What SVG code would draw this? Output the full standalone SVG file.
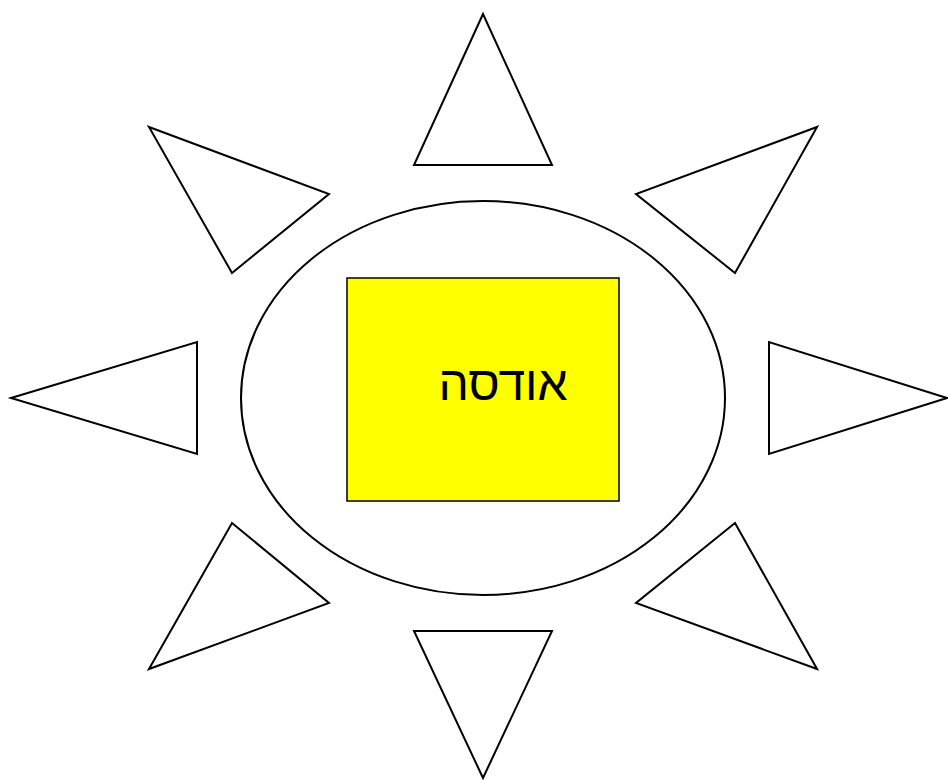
<svg xmlns="http://www.w3.org/2000/svg" width="948" height="780" viewBox="0 0 948 780">
<style>
.ray{fill:#fff;stroke:#000;stroke-width:2;stroke-linejoin:miter}
.lbl{font-family:"Liberation Sans",Arial,sans-serif;font-size:48px;fill:#000}
</style>
<rect width="948" height="780" fill="#fff"/>
<g id="rays">
<polygon id="ray-n" class="ray" points="483,14 552,165 414,165"/>
<polygon id="ray-ne" class="ray" points="817,127 735,273 636,194"/>
<polygon id="ray-e" class="ray" points="947,398 769,454 769,342"/>
<polygon id="ray-se" class="ray" points="817,669 636,603 735,523"/>
<polygon id="ray-s" class="ray" points="483,778 414,631 552,631"/>
<polygon id="ray-sw" class="ray" points="149,669 232,523 329,603"/>
<polygon id="ray-w" class="ray" points="11,398 197,342 197,454"/>
<polygon id="ray-nw" class="ray" points="149,127 329,194 232,273"/>
</g>
<g id="sun">
<ellipse cx="483" cy="398" rx="242" ry="197" fill="#fff" stroke="#000" stroke-width="2"/>
</g>
<g id="center">
<rect x="347" y="278" width="272" height="223" fill="#ffff00" stroke="#000" stroke-width="1.5"/>
<text class="lbl" x="503" y="400" text-anchor="middle" direction="rtl">אודסה</text>
</g>
</svg>
